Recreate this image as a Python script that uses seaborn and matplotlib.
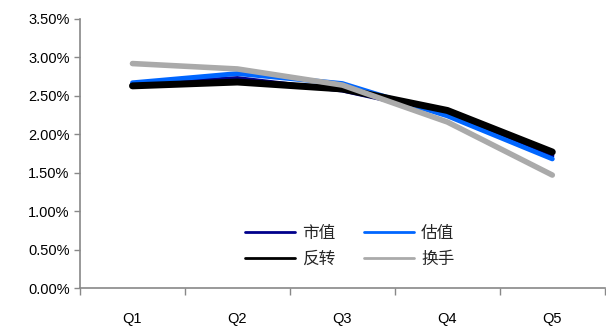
import matplotlib
matplotlib.use("Agg")
import matplotlib.pyplot as plt
import seaborn as sns
import pandas as pd
import numpy as np
from matplotlib.ticker import FuncFormatter, FixedLocator

categories = ["Q1", "Q2", "Q3", "Q4", "Q5"]
shizhi = [2.65, 2.73, 2.57, 2.27, 1.72]   # 市值
guzhi = [2.67, 2.79, 2.66, 2.24, 1.68]    # 估值
fanzhuan = [2.63, 2.68, 2.59, 2.31, 1.77]  # 反转
huanshou = [2.92, 2.85, 2.64, 2.16, 1.47]  # 换手
series_names = ["市值", "估值", "反转", "换手"]
yticks = [0.0, 0.5, 1.0, 1.5, 2.0, 2.5, 3.0, 3.5]

sns.set_theme(style="white")
plt.rcParams['font.family'] = ['Liberation Sans', 'Noto Sans CJK SC', 'DejaVu Sans']

rows = []
for name, vals in zip(series_names, [shizhi, guzhi, fanzhuan, huanshou]):
    for i, v in enumerate(vals):
        rows.append({"pos": i, "val": v, "series": name})
df = pd.DataFrame(rows)

colors = {"市值": "#00008B", "估值": "#0066FF", "反转": "#000000", "换手": "#AAAAAA"}
widths = {"市值": 3.0, "估值": 3.5, "反转": 5.0, "换手": 4.0}

fig = plt.figure(figsize=(6.06, 3.27), dpi=100)
ax = fig.add_axes([0.132, 0.119, 0.866, 0.823])

for name in series_names:
    sub = df[df.series == name]
    sns.lineplot(data=sub, x="pos", y="val", ax=ax, color=colors[name],
                 linewidth=widths[name], label=name, solid_capstyle="round",
                 solid_joinstyle="round")

ax.set_xlim(-0.5, 4.5)
ax.set_ylim(0, 3.5)
ax.set_yticks(yticks)
ax.yaxis.set_major_formatter(FuncFormatter(lambda v, p: f"{v:.2f}%"))
ax.set_xticks(range(len(categories)))
ax.set_xticklabels(categories)
ax.xaxis.set_minor_locator(FixedLocator(np.arange(-0.5, 5.0, 1.0)))
ax.tick_params(axis="x", which="major", length=0, pad=17, labelsize=10.5, colors="black")
ax.tick_params(axis="x", which="minor", length=5, direction="out", color="#888888", width=1, bottom=True)
ax.tick_params(axis="y", which="major", length=4, direction="out", color="#888888", width=1, labelsize=10.5, left=True)
for lab in ax.get_yticklabels():
    lab.set_color("black")
ax.set_xlabel("")
ax.set_ylabel("")
for s in ["top", "right"]:
    ax.spines[s].set_visible(False)
for s in ["left", "bottom"]:
    ax.spines[s].set_color("#888888")
    ax.spines[s].set_linewidth(1.2)

handles, labels = ax.get_legend_handles_labels()
order = [0, 2, 1, 3]
leg = ax.legend([handles[i] for i in order], [labels[i] for i in order], ncol=2,
                frameon=False, loc="upper left",
                bbox_to_anchor=(0.285, 0.29), handlelength=3.0, columnspacing=1.7,
                handletextpad=0.45, labelspacing=0.55,
                prop={"family": ["Noto Sans CJK SC"], "size": 12})
for h in leg.legend_handles:
    h.set_linewidth(2)

fig.savefig("out.png", dpi=100)
